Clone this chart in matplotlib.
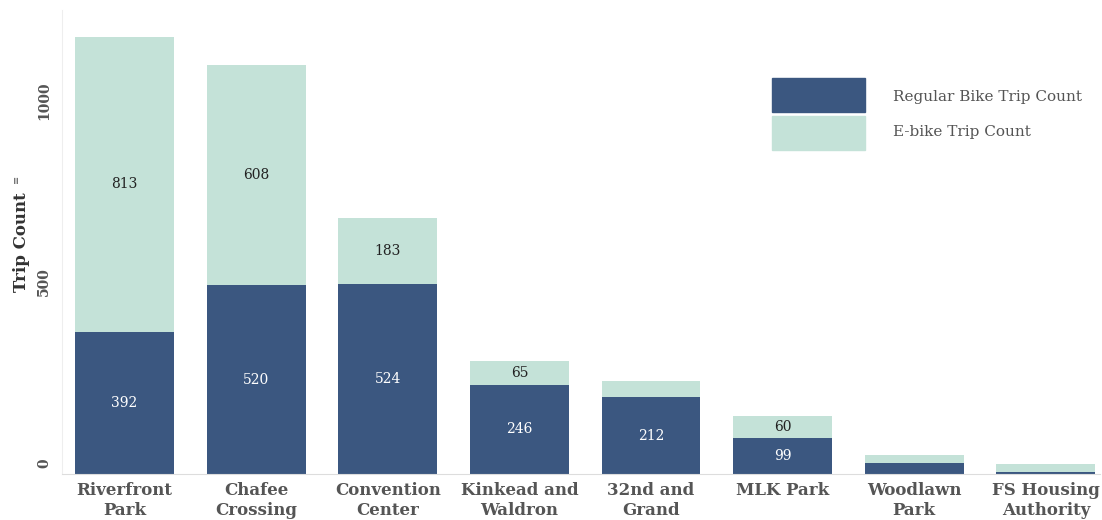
import numpy as np
import matplotlib.pyplot as plt
from matplotlib.patches import Rectangle
from matplotlib.transforms import ScaledTranslation

stations = ['Riverfront\nPark', 'Chafee\nCrossing', 'Convention\nCenter', 'Kinkead and\nWaldron',
            '32nd and\nGrand', 'MLK Park', 'Woodlawn\nPark', 'FS Housing\nAuthority']
regular = [392, 520, 524, 246, 212, 99, 30, 5]
ebike = [813, 608, 183, 65, 44, 60, 22, 23]
# only these segments carry a printed count
show_regular = [True, True, True, True, True, True, False, False]
show_ebike = [True, True, True, True, False, True, False, False]
series_names = ['Regular Bike Trip Count', 'E-bike Trip Count']

reg_color = '#3B5780'
eb_color = '#C4E2D8'
grey = '#555555'

plt.rcParams['font.family'] = ['DejaVu Serif']

fig = plt.figure(figsize=(11.02, 5.2), dpi=100)
ax = fig.add_axes([0.0563, 0.0885, 0.9417, 0.8925])

index = np.arange(len(stations))
bar_width = 0.75
ax.bar(index, regular, bar_width, color=reg_color)
ax.bar(index, ebike, bar_width, bottom=regular, color=eb_color)

for i in range(len(stations)):
    if show_regular[i]:
        ax.text(index[i], regular[i] / 2.0, str(regular[i]), ha='center', va='center',
                color='white', fontsize=10)
    if show_ebike[i]:
        ax.text(index[i], regular[i] + ebike[i] / 2.0, str(ebike[i]), ha='center', va='center',
                color='#222222', fontsize=10)

ax.set_xlim(-0.475, 7.41)
ax.set_ylim(0, 1280)
ax.set_xticks(index)
ax.set_xticklabels(stations, fontsize=12, fontweight='bold', color=grey, linespacing=1.2)
ax.set_yticks([0, 500, 1000])
ax.set_yticklabels(['0', '500', '1000'], rotation=90, va='center', fontsize=10,
                   fontweight='bold', color=grey)
ax.tick_params(axis='both', length=0)
ax.tick_params(axis='x', pad=6)
ax.tick_params(axis='y', pad=8)
# nudge the rotated y labels up a little (after tick_params, which resets transforms)
for lab in ax.get_yticklabels():
    lab.set_transform(lab.get_transform() + ScaledTranslation(0, 0.11, fig.dpi_scale_trans))
ax.set_ylabel('Trip Count', fontsize=12, fontweight='bold', color='#333333', labelpad=5)
ax.text(-0.0435, 0.635, '\u2261', transform=ax.transAxes, rotation=90, fontsize=7,
        color=grey, ha='center', va='center')

for s in ['top', 'right']:
    ax.spines[s].set_visible(False)
ax.spines['left'].set_color('#EEEEEE')
ax.spines['bottom'].set_color('#DDDDDD')
ax.spines['bottom'].set_linestyle((0, (1, 1)))

# legend drawn by hand: big swatches stacked with a small gap
sw_x, sw_w, sw_h = 0.7005, 0.0844, 0.0654
sw_y = [0.7846, 0.7115]
txt_y = [0.8135, 0.7462]
for c, name, y0, ty in zip([reg_color, eb_color], series_names, sw_y, txt_y):
    fig.add_artist(Rectangle((sw_x, y0), sw_w, sw_h, color=c, transform=fig.transFigure))
    fig.text(0.8103, ty, name, fontsize=11, color=grey, va='center', ha='left')

plt.savefig('out.png', dpi=100)
